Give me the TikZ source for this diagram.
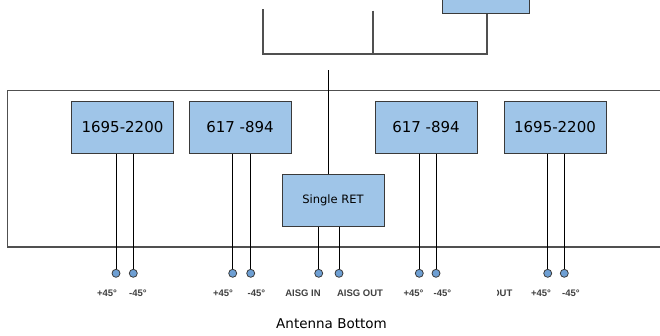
\documentclass[tikz,border=0pt]{standalone}
\usepackage{fontspec}
\setmainfont{DejaVu Sans}
\newfontfamily\lblfont{Liberation Sans}
\definecolor{boxfill}{HTML}{9FC5E8}
\definecolor{boxline}{HTML}{3A3A3A}
\definecolor{frameline}{HTML}{505050}
\definecolor{pinfill}{HTML}{6E9FD3}
\definecolor{lbltext}{HTML}{404040}
\begin{document}
\begin{tikzpicture}[x=1pt,y=-1pt,
  band/.style={draw=boxline,fill=boxfill,line width=1pt,minimum width=102pt,minimum height=52pt,inner sep=0pt,font=\fontsize{15}{17}\selectfont},
  retbox/.style={band,font=\fontsize{11.5}{13}\selectfont},
  pin/.style={circle,draw=boxline,fill=pinfill,line width=0.8pt,minimum size=8pt,inner sep=0pt},
  pinline/.style={draw=black,line width=0.9pt},
  feed/.style={draw=frameline,line width=1.2pt},
  lbl/.style={font=\lblfont\bfseries\fontsize{9.5}{11}\selectfont,text=lbltext,inner sep=0pt}]
\useasboundingbox (0,0) rectangle (660,335);
\clip (0,0) rectangle (660,335);
% top part
\node[band,minimum width=87pt,minimum height=36pt] (top) at (485.5,-5) {};
\coordinate (tl) at (263,9);
\coordinate (tm) at (373,10.5);
\coordinate (bl) at (263,54);
\coordinate (bm) at (373,54);
\coordinate (br) at (487,54);
\draw[feed] (tl) -- (bl) -- (br) -- (top.south -| br);
\draw[feed] (tm) -- (bm);
% frame
\coordinate (fa) at (680,90.5);
\coordinate (fb) at (7.6,247);
\draw[feed] (fa) -- (fa -| fb) -- (fb) -- (fb -| fa);
% boxes
\node[band] (b1) at (122.5,127) {1695-2200};
\node[band] (b2) at (240,127) {617 -894};
\node[band] (b3) at (426,127) {617 -894};
\node[band] (b4) at (555,127) {1695-2200};
\node[retbox] (ret) at (333,200) {Single RET};
\coordinate (feedtop) at (328,70);
\draw[pinline] (feedtop) -- (feedtop |- ret.north);
% pins
\foreach \n/\x/\b in {p1/116/b1,p2/133.3/b1,p3/232.7/b2,p4/250.7/b2,p5/318.7/ret,p6/339/ret,p7/419.3/b3,p8/436/b3,p9/547.7/b4,p10/564.3/b4}{
  \node[pin] (\n) at (\x,273.3) {};
  \draw[pinline] (\n |- \b.south) -- (\n.north);
}
% labels
\node[lbl] (l1) at (107,293) {+45°};
\node[lbl] (l2) at (138,293) {-45°};
\node[lbl] (l3) at (223,293) {+45°};
\node[lbl] (l4) at (256.5,293) {-45°};
\node[lbl] (l5) at (303,293) {AISG IN};
\node[lbl] (l6) at (360,293) {AISG OUT};
\node[lbl] (l7) at (413.5,293) {+45°};
\node[lbl] (l8) at (442.5,293) {-45°};
\node[lbl] (l10) at (541,293) {+45°};
\node[lbl] (l11) at (571,293) {-45°};
\begin{scope}
\clip (497,280) rectangle (525,305);
\node[lbl,anchor=east] (l9) at (512.5,293) {OUT};
\end{scope}
\node[font=\fontsize{13.5}{16}\selectfont,inner sep=0pt] (cap) at (331.5,324) {Antenna Bottom};
\end{tikzpicture}
\end{document}
